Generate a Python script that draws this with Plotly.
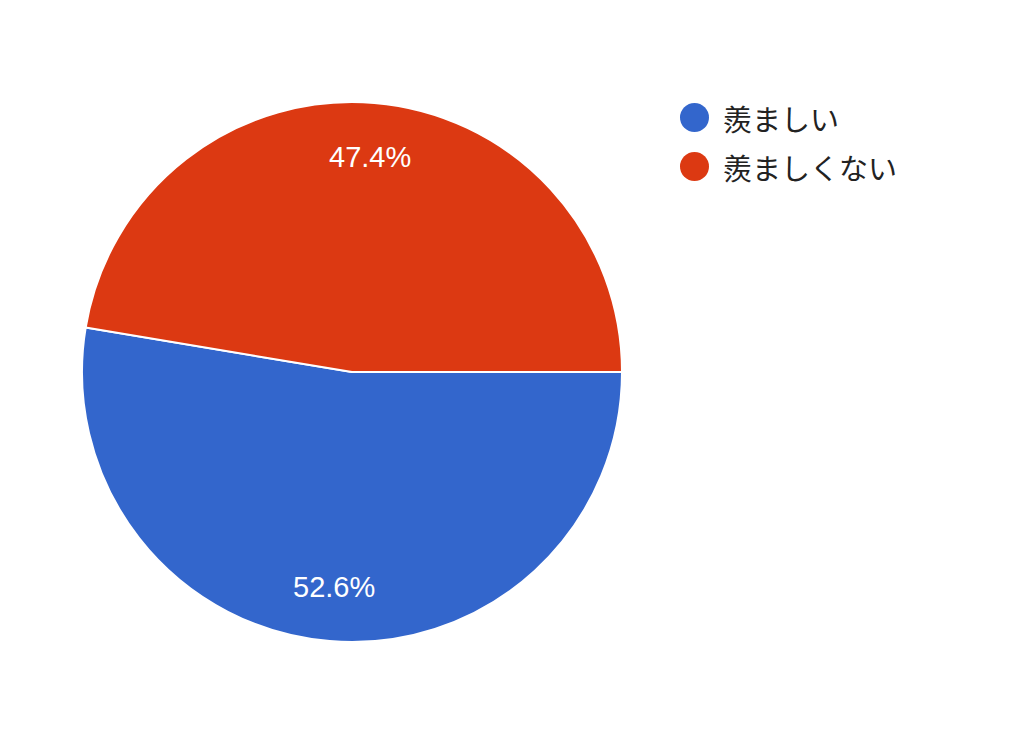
import math
import plotly.graph_objects as go

# Survey answers (counts -> 52.6% / 47.4%)
labels = ["羨ましい", "羨ましくない"]
counts = [10, 9]
colors = ["#3366CC", "#DC3912"]

W, H = 1024, 731
OFF = 8  # page body margin in the browser

# pie placement (pixels)
cx, cy, rad = 352 - OFF, 372 - OFF, 270

fig = go.Figure()
fig.add_trace(go.Pie(labels=labels,
                     values=counts,
                     sort=False,
                     direction="clockwise",
                     rotation=90,
                     marker=dict(colors=colors, line=dict(color="white", width=2)),
                     textinfo="none",
                     showlegend=False,
                     hoverinfo="label+percent",
                     domain=dict(x=[(cx - rad) / W, (cx + rad) / W],
                                 y=[1 - (cy + rad) / H, 1 - (cy - rad) / H])))

annotations = []
shapes = []

# percentage labels placed at 80% of the radius, mid-angle of each slice
total = sum(counts)
start = 0.0  # degrees, standard orientation, slices go clockwise from 3 o'clock
for n in counts:
    span = 360.0 * n / total
    mid = math.radians(start - span / 2)
    d = 0.8 * rad
    annotations.append(dict(text=f"{100 * n / total:.1f}%", xref="paper", yref="paper",
                            x=(cx + d * math.cos(mid)) / W,
                            y=1 - (cy - d * math.sin(mid)) / H,
                            xanchor="center", yanchor="middle", showarrow=False,
                            font=dict(family="Liberation Sans, Arial", size=29, color="white")))
    start -= span

# hand-made legend with round swatches
for i, (lab, col) in enumerate(zip(labels, colors)):
    ly = 1 - (117.5 - OFF + 49 * i) / H
    r = 14.5
    lx = 694.5 - OFF
    shapes.append(dict(type="circle", xref="paper", yref="paper",
                       x0=(lx - r) / W, x1=(lx + r) / W,
                       y0=ly - r / H, y1=ly + r / H,
                       fillcolor=col, line=dict(width=0)))
    annotations.append(dict(text=lab, xref="paper", yref="paper",
                            x=(721 - OFF) / W, y=ly, xanchor="left", yanchor="middle",
                            showarrow=False,
                            font=dict(family="Noto Sans CJK JP", size=29, color="#222222")))

fig.update_layout(width=W, height=H,
                  margin=dict(l=0, r=0, t=0, b=0),
                  paper_bgcolor="white",
                  plot_bgcolor="white",
                  shapes=shapes,
                  annotations=annotations)

fig.write_html("out.html")
